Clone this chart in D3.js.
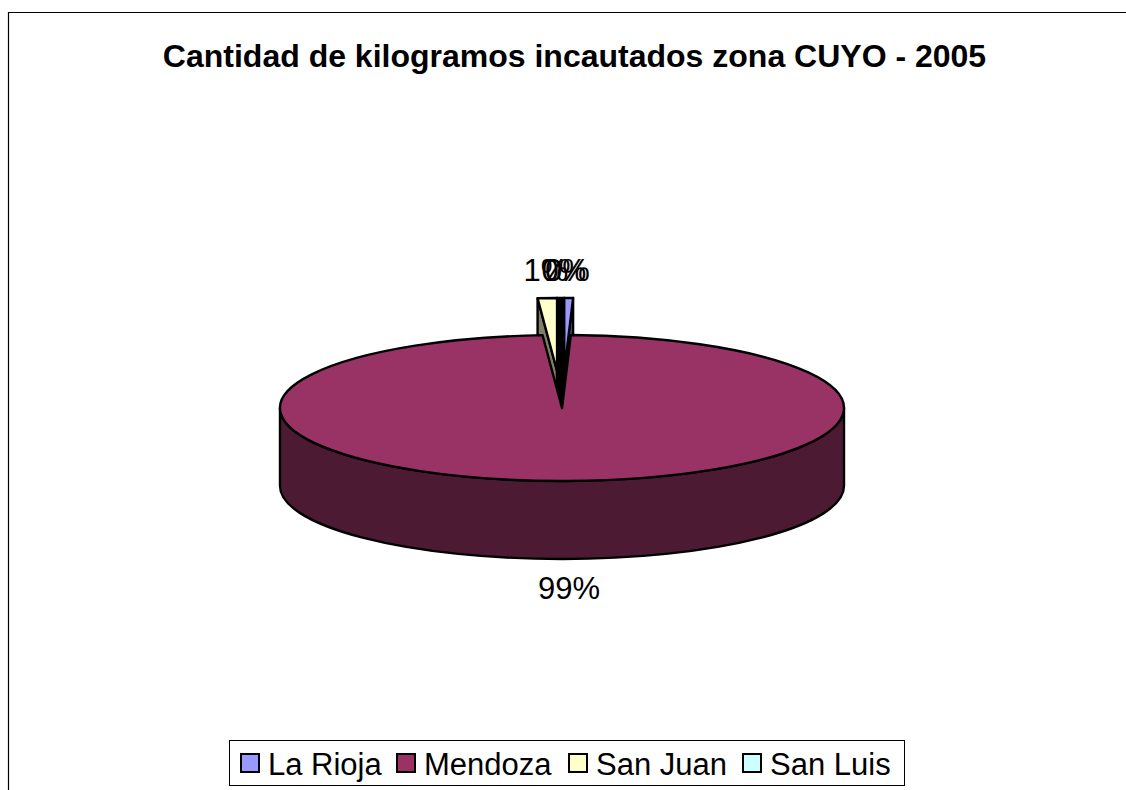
<!DOCTYPE html>
<html><head><meta charset="utf-8">
<script src="https://cdn.jsdelivr.net/npm/d3@7"></script>
<style>html,body{margin:0;background:#fff}svg{display:block}text{font-family:"Liberation Sans",Arial,sans-serif;fill:#000}</style>
</head><body><script>
const titleText = "Cantidad de kilogramos incautados zona CUYO - 2005";
const categories = ["La Rioja","Mendoza","San Juan","San Luis"];
const values = [0.5,98.4,1.1,0.0];
const percentLabels = ["0%","99%","1%","0%"];
const topColors = ["#9999FF","#993366","#FFFFCC","#CCFFFF"];
const wallColors = ["#4C4C80","#4D1A33","#7F7F66","#000000"];

const W=1126,H=790, cx=562, cy=408, rx=282, ry=73, depth=78, lift=37;
const svg=d3.select("body").append("svg").attr("width",W).attr("height",H);

svg.append("path").attr("d",`M8.5,${H}V12.5H${W}`).attr("fill","none").attr("stroke","#000").attr("stroke-width",1.2);
svg.append("text").attr("x",574.5).attr("y",67).attr("text-anchor","middle")
  .attr("font-size",32).attr("font-weight","bold").text(titleText);

const arcs=d3.pie().sort(null).value(d=>d)(values);
const xs=d3.scaleLinear().domain([-1,1]).range([cx-rx,cx+rx]);
const ys=d3.scaleLinear().domain([-1,1]).range([cy-ry,cy+ry]);
const P=(a,c)=>[xs(Math.sin(a))+c[0],ys(-Math.cos(a))+c[1]];
const stroke={stroke:"#000","stroke-width":2.4,"stroke-linejoin":"round"};
function add(d,fill){const p=svg.append("path").attr("d",d).attr("fill",fill);
  for(const k in stroke)p.attr(k,stroke[k]);return p;}

function offset(d,i){
  if(i===1) return [0,0];
  const m=(d.startAngle+d.endAngle)/2;
  return [(xs(Math.sin(m))-cx)*lift/ry, (ys(-Math.cos(m))-cy)*lift/ry];
}
function radialWall(a,c,col){
  const o=[cx+c[0],cy+c[1]], e=P(a,c);
  add(`M${o}L${e}L${e[0]},${e[1]+depth}L${o[0]},${o[1]+depth}Z`,col);
}
function sliceTop(d,c,col){
  const o=[cx+c[0],cy+c[1]], a=P(d.startAngle,c), b=P(d.endAngle,c);
  const large=d.endAngle-d.startAngle>Math.PI?1:0;
  add(`M${o}L${a}A${rx},${ry} 0 ${large} 1 ${b}Z`,col);
}

// the near-zero San Luis slice closes the gap between its exploded neighbours
const c2=offset(arcs[2],2), c0=offset(arcs[0],0);
const e2=P(arcs[2].endAngle,c2), e0=P(arcs[0].startAngle,c0);
add(`M${e2}L${e0}L${cx+c0[0]},${cy+c0[1]+depth}L${cx+c2[0]},${cy+c2[1]+depth}Z`,wallColors[3]);

// exploded slices behind the large one
[2,0].forEach(i=>{
  const d=arcs[i], c=offset(d,i);
  radialWall(d.startAngle,c,wallColors[i]);
  radialWall(d.endAngle,c,wallColors[i]);
  sliceTop(d,c,topColors[i]);
});

// large slice: rim then top
const rimL=[cx-rx,cy],rimR=[cx+rx,cy];
add(`M${rimL}A${rx},${ry} 0 0 0 ${rimR}V${cy+depth}A${rx},${ry} 0 0 1 ${rimL[0]},${cy+depth}Z`,wallColors[1]);
sliceTop(arcs[1],[0,0],topColors[1]);

// percentage labels
const labelPos=[[567.5,281],[569,599],[546,281],[564,281]];
percentLabels.forEach((t,i)=>{
  svg.append("text").attr("x",labelPos[i][0]).attr("y",labelPos[i][1])
    .attr("text-anchor","middle").attr("font-size",31).text(t);
});

// legend
const lg=svg.append("g");
lg.append("rect").attr("x",229.5).attr("y",740.5).attr("width",675).attr("height",45)
  .attr("fill","#fff").attr("stroke","#000").attr("stroke-width",1);
const lx=d3.scaleOrdinal().domain(categories).range([241,397,569,743]);
categories.forEach((c,i)=>{
  lg.append("rect").attr("x",lx(c)).attr("y",754).attr("width",18).attr("height",18)
    .attr("fill",topColors[i]).attr("stroke","#000").attr("stroke-width",2);
  lg.append("text").attr("x",lx(c)+27).attr("y",774.5).attr("font-size",31).text(c);
});
</script></body></html>
